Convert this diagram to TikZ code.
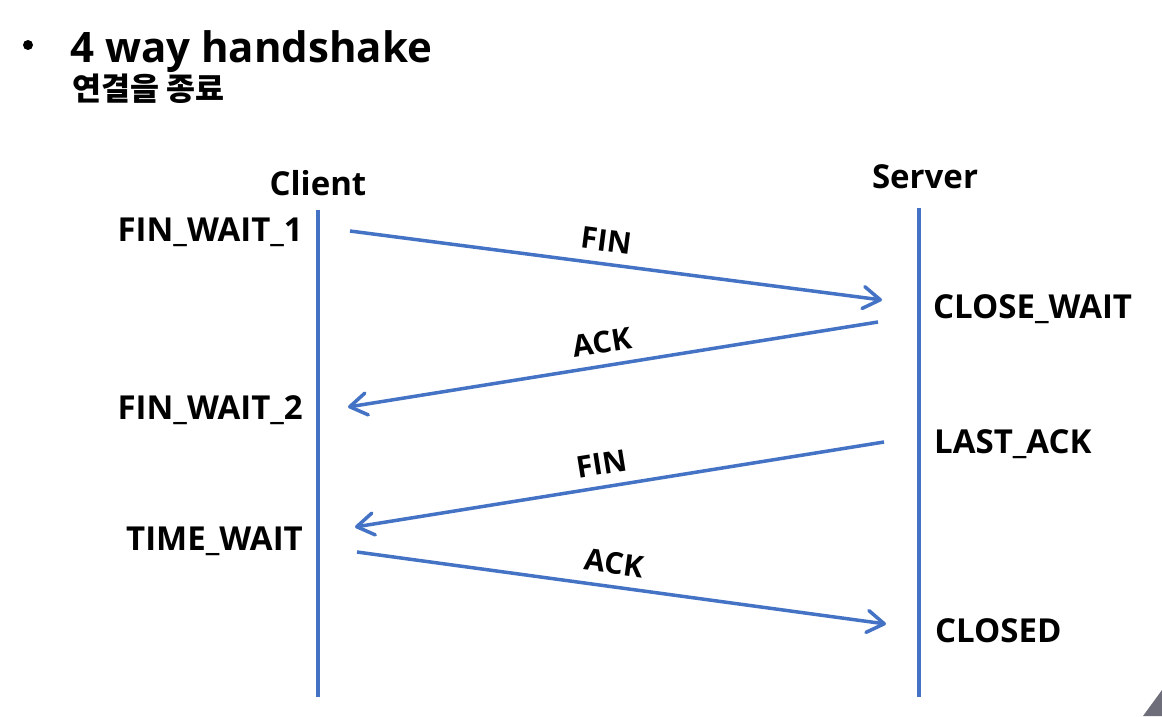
\documentclass[tikz,border=0pt]{standalone}
\usepackage{fontspec}
\setmainfont{Open Sans}
\newfontfamily\kofont{Noto Sans CJK KR}
\usetikzlibrary{arrows.meta}
\definecolor{lineblue}{HTML}{4472C4}
\definecolor{cornergray}{HTML}{6E6E7A}
\tikzset{
  lifeline/.style={draw=lineblue, line width=4pt},
  msg/.style={draw=lineblue, line width=3.5pt, -{Straight Barb[length=17pt,width=22pt,round]}},
  statelbl/.style={font=\fontsize{33}{36}\selectfont\bfseries, inner sep=0pt},
  msglbl/.style={font=\fontsize{30}{33}\selectfont\bfseries, inner sep=0pt, sloped, above=11pt},
}
\begin{document}
\begin{tikzpicture}[x=1pt,y=-1pt]
\useasboundingbox[fill=white] (0,0) rectangle (1162,716);
\fill[cornergray] (1143,716) -- (1162,690) -- (1162,716) -- cycle;
% title
\node[circle, fill=black, inner sep=0pt, minimum size=10pt] (bullet) at (28,45) {};
\node[anchor=base west, inner sep=0pt, font=\fontsize{42}{46}\selectfont\bfseries] (title) at (70,62) {4 way handshake};
\node[anchor=base west, inner sep=0pt, font=\kofont\fontsize{31.5}{34}\selectfont\bfseries] (sub) at (72,100) {연결을 종료};
% lifelines
\coordinate (ctop) at (318,210);
\coordinate (cbot) at (318,697);
\coordinate (stop) at (919,208);
\coordinate (sbot) at (919,697);
\draw[lifeline] (ctop) -- (cbot);
\draw[lifeline] (stop) -- (sbot);
\node[statelbl, anchor=base] (client) at (318,195) {Client};
\node[statelbl, anchor=base] (server) at (925,188) {Server};
% states
\node[statelbl, anchor=base east] (fw1) at (303,241) {FIN\_WAIT\_1};
\node[statelbl, anchor=base east] (fw2) at (303,419) {FIN\_WAIT\_2};
\node[statelbl, anchor=base east] (tw) at (303,550) {TIME\_WAIT};
\node[statelbl, anchor=base west] (cw) at (933,318) {CLOSE\_WAIT};
\node[statelbl, anchor=base west] (la) at (934,453) {LAST\_ACK};
\node[statelbl, anchor=base west] (cl) at (935,642) {CLOSED};
% message endpoints
\coordinate (m1s) at (350,231);
\coordinate (m1e) at (882,300);
\coordinate (m2s) at (878,322);
\coordinate (m2e) at (348,407);
\coordinate (m3s) at (884,442);
\coordinate (m3e) at (355,527);
\coordinate (m4s) at (357,552);
\coordinate (m4e) at (886,624);
\draw[msg] (m1s) -- node[msglbl, pos=0.476] (l1) {FIN} (m1e);
\draw[msg] (m2s) -- node[msglbl, pos=0.513] (l2) {ACK} (m2e);
\draw[msg] (m3s) -- node[msglbl, pos=0.527] (l3) {FIN} (m3e);
\draw[msg] (m4s) -- node[msglbl, pos=0.481] (l4) {ACK} (m4e);
\end{tikzpicture}
\end{document}
